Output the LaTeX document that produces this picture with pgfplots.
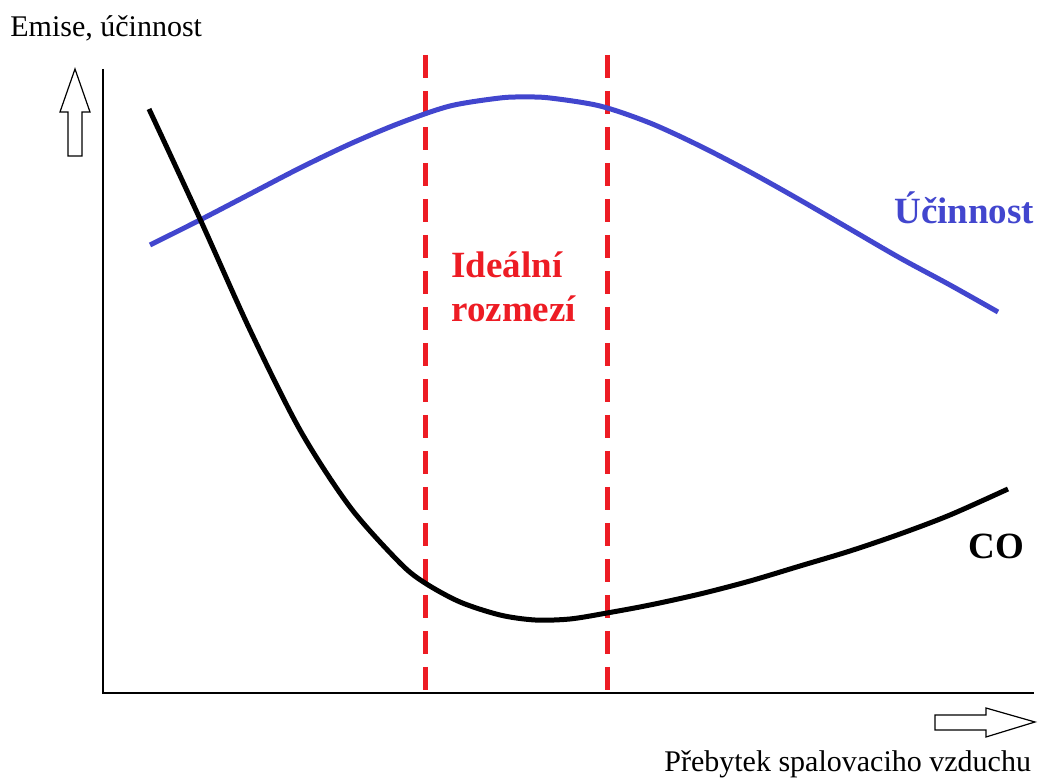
\documentclass[border=0pt]{standalone}
\usepackage{pgfplots}
\pgfplotsset{compat=1.18}
\usepackage{fontspec}
\setmainfont{Liberation Serif}
\definecolor{effblue}{RGB}{66,70,206}
\definecolor{idealred}{RGB}{237,28,36}
\newcommand{\reg}{\fontsize{15}{18}\selectfont}
\newcommand{\bld}{\fontsize{18.5}{22}\selectfont\bfseries}
\begin{document}
\begin{tikzpicture}
\path (0,0) rectangle (520.5pt,389.5pt);
\begin{axis}[
    at={(0,0)}, anchor=south west,
    scale only axis,
    width=520.5pt, height=389.5pt,
    xmin=0, xmax=1041,
    ymin=0, ymax=779,
    y dir=reverse,
    axis lines=none,
    ticks=none,
    clip=false,
]
% axes
\draw[black, line width=1pt] (axis cs:103,69) -- (axis cs:103,693) -- (axis cs:1034,693);
% hollow arrows
\draw[black, line width=0.6pt, fill=white]
    (axis cs:75,69) -- (axis cs:90,112) -- (axis cs:82,112) -- (axis cs:82,156)
    -- (axis cs:68,156) -- (axis cs:68,112) -- (axis cs:60,112) -- cycle;
\draw[black, line width=0.6pt, fill=white]
    (axis cs:1035,722) -- (axis cs:986,737) -- (axis cs:986,730) -- (axis cs:935,730)
    -- (axis cs:935,715) -- (axis cs:986,715) -- (axis cs:986,708) -- cycle;
% ideal range
\addplot[idealred, line width=2.5pt, dash pattern=on 11.5pt off 6.5pt]
    coordinates {(425,55)(425,693)};
\addplot[idealred, line width=2.5pt, dash pattern=on 11.5pt off 6.5pt]
    coordinates {(607,55)(607,693)};
% efficiency
\addplot[effblue, line width=2.5pt, smooth] coordinates {
    (150,245)(200,220)(250,194)(300,168)(350,144)(400,123)(450,106)
    (500,98)(525,97)(550,98)(600,106)(650,123)(700,146)(750,172)
    (800,200)(850,229)(900,258)(950,285)(998,312)};
% CO
\addplot[black, line width=2.5pt, smooth] coordinates {
    (149,109)(200,219)(250,330)(300,430)(350,507)(400,563)(425,583)
    (460,602)(500,615)(535,620)(570,619)(607,613)(650,605)(700,594)
    (750,581)(800,566)(850,551)(900,534)(950,515)(1008,489)};
% labels
\node[anchor=base west, inner sep=0pt] at (axis cs:10,37) {\reg Emise, účinnost};
\node[anchor=base west, inner sep=0pt] at (axis cs:664,772) {\reg Přebytek spalovaciho vzduchu};
\node[anchor=base west, inner sep=0pt, text=idealred] at (axis cs:451,278) {\bld Ideální};
\node[anchor=base west, inner sep=0pt, text=idealred] at (axis cs:451,322) {\bld rozmezí};
\node[anchor=base west, inner sep=0pt, text=effblue] at (axis cs:894,224) {\bld Účinnost};
\node[anchor=base west, inner sep=0pt] at (axis cs:968,559) {\bld CO};
\end{axis}
\end{tikzpicture}
\end{document}
